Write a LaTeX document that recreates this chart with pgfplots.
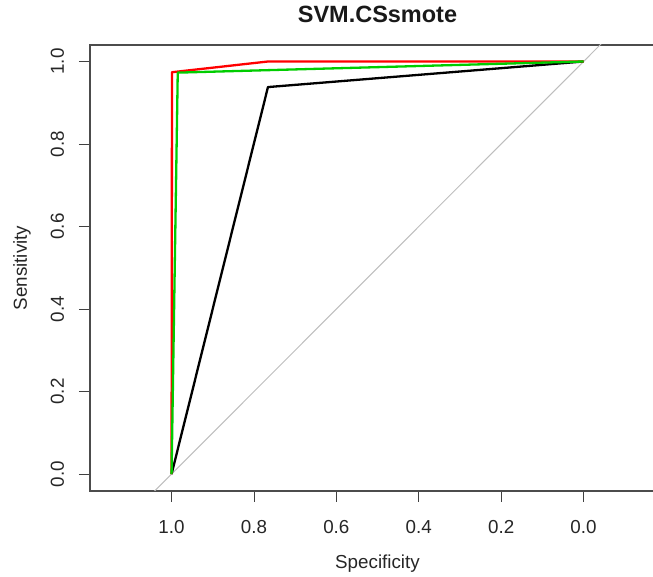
\documentclass[border=0pt]{standalone}
\usepackage{pgfplots}
\pgfplotsset{compat=1.18}
\usepackage{fontspec}
\setmainfont{Liberation Sans}
\definecolor{rgreen}{RGB}{0,205,0}
\definecolor{rgrey}{RGB}{190,190,190}
\begin{document}
\begin{tikzpicture}
\useasboundingbox (-90pt,-86pt) rectangle (563pt,491pt);
\clip (-90pt,-86pt) rectangle (563pt,491pt);
\begin{axis}[
  at={(0pt,0pt)}, anchor=south west,
  scale only axis, width=563.6pt, height=446pt,
  x dir=reverse,
  xmin=-0.17, xmax=1.198,
  ymin=-0.041, ymax=1.040,
  xtick={0,0.2,0.4,0.6,0.8,1.0},
  ytick={0,0.2,0.4,0.6,0.8,1.0},
  xtick pos=bottom, ytick pos=left,
  tick align=outside,
  major tick length=11pt,
  tick style={black!75, line width=0.9pt},
  axis line style={black!70, line width=1.1pt},
  /pgf/number format/assume math mode=true,
  /pgf/number format/fixed, /pgf/number format/fixed zerofill,
  /pgf/number format/precision=1,
  ticklabel style={font=\fontsize{18.8}{22}\selectfont, text=black!85},
  xticklabel style={anchor=base},
  xticklabel shift=32pt,
  yticklabel style={rotate=90, anchor=base},
  yticklabel shift=15pt,
  xlabel={Specificity},
  ylabel={Sensitivity},
  xlabel style={at={(axis description cs:0.5101,-0.1735)}, anchor=base, font=\fontsize{18.8}{22}\selectfont, text=black!85},
  ylabel style={at={(axis description cs:-0.1118,0.5)}, rotate=0, anchor=base, font=\fontsize{18.8}{22}\selectfont, text=black!85},
  title={\textbf{SVM.CSsmote}},
  title style={at={(axis description cs:0.5101,1.0374)}, anchor=base, font=\fontsize{23.5}{27}\selectfont, text=black!90},
  clip=true,
]
\addplot[rgrey, line width=1pt] coordinates {(1.3,-0.3) (-0.3,1.3)};
\addplot[black, line width=2.3pt, line join=round] coordinates {(1,0) (0.766,0.938) (0,1)};
\addplot[red, line width=2.3pt, line join=round] coordinates {(1,0) (0.999,0.974) (0.766,1.0) (0,1)};
\addplot[rgreen, line width=2.3pt, line join=round] coordinates {(1,0) (0.985,0.973) (0,1)};
\end{axis}
\end{tikzpicture}
\end{document}
